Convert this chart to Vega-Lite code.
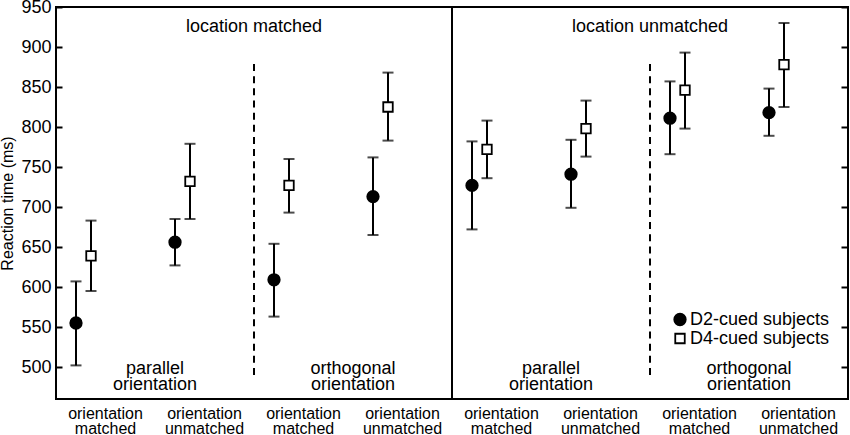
{
  "$schema": "https://vega.github.io/schema/vega-lite/v6.json",
  "description": "Reaction time by cue group, location and orientation condition",
  "width": 792,
  "height": 392,
  "autosize": "none",
  "padding": {"left": 56, "top": 7, "right": 2, "bottom": 36},
  "config": {
    "background": "white",
    "font": "Liberation Sans",
    "view": {"stroke": "black", "strokeWidth": 2}
  },
  "datasets": {
    "rt": [
      {"cond": "LM-PAR-OM", "group": "D2-cued subjects", "rt": 555, "lo": 502, "hi": 607},
      {"cond": "LM-PAR-OM", "group": "D4-cued subjects", "rt": 639, "lo": 595, "hi": 683},
      {"cond": "LM-PAR-OU", "group": "D2-cued subjects", "rt": 656, "lo": 627, "hi": 685},
      {"cond": "LM-PAR-OU", "group": "D4-cued subjects", "rt": 732, "lo": 685, "hi": 779},
      {"cond": "LM-ORT-OM", "group": "D2-cued subjects", "rt": 609, "lo": 563, "hi": 654},
      {"cond": "LM-ORT-OM", "group": "D4-cued subjects", "rt": 727, "lo": 693, "hi": 760},
      {"cond": "LM-ORT-OU", "group": "D2-cued subjects", "rt": 713, "lo": 665, "hi": 762},
      {"cond": "LM-ORT-OU", "group": "D4-cued subjects", "rt": 825, "lo": 783, "hi": 868},
      {"cond": "LU-PAR-OM", "group": "D2-cued subjects", "rt": 727, "lo": 672, "hi": 782},
      {"cond": "LU-PAR-OM", "group": "D4-cued subjects", "rt": 772, "lo": 736, "hi": 808},
      {"cond": "LU-PAR-OU", "group": "D2-cued subjects", "rt": 741, "lo": 699, "hi": 784},
      {"cond": "LU-PAR-OU", "group": "D4-cued subjects", "rt": 798, "lo": 763, "hi": 833},
      {"cond": "LU-ORT-OM", "group": "D2-cued subjects", "rt": 811, "lo": 766, "hi": 857},
      {"cond": "LU-ORT-OM", "group": "D4-cued subjects", "rt": 846, "lo": 798, "hi": 893},
      {"cond": "LU-ORT-OU", "group": "D2-cued subjects", "rt": 818, "lo": 789, "hi": 848},
      {"cond": "LU-ORT-OU", "group": "D4-cued subjects", "rt": 878, "lo": 825, "hi": 930}
    ],
    "locations": [
      {"cond": "LM-ORT-OM", "label": "location matched"},
      {"cond": "LU-ORT-OM", "label": "location unmatched"}
    ],
    "orientations": [
      {"cond": "LM-PAR-OU", "label": "parallel\norientation"},
      {"cond": "LM-ORT-OU", "label": "orthogonal\norientation"},
      {"cond": "LU-PAR-OU", "label": "parallel\norientation"},
      {"cond": "LU-ORT-OU", "label": "orthogonal\norientation"}
    ]
  },
  "layer": [
    {
      "data": {"name": "locations"},
      "mark": {"type": "rule", "stroke": "black", "strokeWidth": 2, "strokeDash": [7, 5.16]},
      "encoding": {
        "x": {"field": "cond", "type": "nominal", "bandPosition": 0},
        "y": {"datum": 490, "type": "quantitative", "axis": null, "scale": {"domain": [460, 950], "nice": false}},
        "y2": {"datum": 879}
      }
    },
    {
      "data": {"values": [{"cond": "LU-PAR-OM"}]},
      "mark": {"type": "rule", "stroke": "black", "strokeWidth": 2},
      "encoding": {
        "x": {"field": "cond", "type": "nominal", "bandPosition": 0}
      }
    },
    {
      "data": {"name": "locations"},
      "mark": {"type": "text", "fontSize": 18, "baseline": "middle", "align": "center", "color": "black"},
      "encoding": {
        "x": {"field": "cond", "type": "nominal", "bandPosition": 0},
        "y": {"datum": 925, "type": "quantitative", "axis": null},
        "text": {"field": "label"}
      }
    },
    {
      "data": {"name": "orientations"},
      "mark": {"type": "text", "fontSize": 18, "baseline": "middle", "align": "center", "lineBreak": "\n", "lineHeight": 16, "color": "black"},
      "encoding": {
        "x": {"field": "cond", "type": "nominal", "bandPosition": 0},
        "y": {"datum": 497, "type": "quantitative", "axis": null},
        "text": {"field": "label"}
      }
    },
    {
      "data": {"name": "rt"},
      "mark": {"type": "rule", "stroke": "black", "strokeWidth": 2},
      "encoding": {
        "x": {"field": "cond", "type": "nominal"},
        "xOffset": {"field": "group", "type": "nominal"},
        "y": {
          "field": "lo", "type": "quantitative",
          "axis": {"orient": "right", "labels": false, "title": null, "domain": false, "grid": false, "tickSize": -7, "tickWidth": 2, "tickColor": "black", "values": [500, 550, 600, 650, 700, 750, 800, 850, 900, 950]}
        },
        "y2": {"field": "hi"}
      }
    },
    {
      "data": {"name": "rt"},
      "mark": {"type": "tick", "orient": "horizontal", "size": 11, "thickness": 2, "color": "black"},
      "encoding": {
        "x": {"field": "cond", "type": "nominal"},
        "xOffset": {"field": "group", "type": "nominal"},
        "y": {"field": "lo", "type": "quantitative", "axis": null}
      }
    },
    {
      "data": {"name": "rt"},
      "mark": {"type": "tick", "orient": "horizontal", "size": 11, "thickness": 2, "color": "black"},
      "encoding": {
        "x": {"field": "cond", "type": "nominal"},
        "xOffset": {"field": "group", "type": "nominal"},
        "y": {"field": "hi", "type": "quantitative", "axis": null}
      }
    },
    {
      "data": {"name": "rt"},
      "mark": {"type": "point", "filled": true, "stroke": "black", "strokeWidth": 1.8, "opacity": 1},
      "encoding": {
        "x": {
          "field": "cond", "type": "nominal", "title": null,
          "scale": {"domain": ["LM-PAR-OM", "LM-PAR-OU", "LM-ORT-OM", "LM-ORT-OU", "LU-PAR-OM", "LU-PAR-OU", "LU-ORT-OM", "LU-ORT-OU"], "paddingInner": 0, "paddingOuter": 0},
          "axis": {
            "ticks": false, "domain": false, "labelAngle": 0, "labelAlign": "center", "labelBaseline": "top", "labelFontSize": 16, "labelColor": "black",
            "labelPadding": 6, "labelLineHeight": 15,
            "labelExpr": "slice(datum.value, -2) == 'OM' ? ['orientation', 'matched'] : ['orientation', 'unmatched']"
          }
        },
        "xOffset": {
          "field": "group", "type": "nominal",
          "scale": {"type": "point", "domain": ["D2-cued subjects", "D4-cued subjects"], "range": [20, 35], "padding": 0}
        },
        "y": {
          "field": "rt", "type": "quantitative",
          "scale": {"domain": [460, 950], "nice": false},
          "axis": {
            "title": "Reaction time (ms)", "titleFontSize": 16, "titleFontWeight": "normal", "titleColor": "black", "titlePadding": 5,
            "values": [500, 550, 600, 650, 700, 750, 800, 850, 900, 950],
            "labelFontSize": 18, "labelColor": "black", "labelPadding": 11,
            "tickSize": -6, "tickWidth": 2, "tickColor": "black", "domain": false, "grid": false
          }
        },
        "fill": {
          "field": "group", "type": "nominal",
          "scale": {"domain": ["D2-cued subjects", "D4-cued subjects"], "range": ["black", "white"]},
          "legend": {
            "orient": "none", "legendX": 615, "legendY": 305, "title": null, "padding": 0,
            "labelFontSize": 18, "labelColor": "black", "labelOffset": 1, "rowPadding": 0, "clipHeight": 15,
            "symbolStrokeColor": "black", "symbolStrokeWidth": 1.8
          }
        },
        "shape": {
          "field": "group", "type": "nominal",
          "scale": {"domain": ["D2-cued subjects", "D4-cued subjects"], "range": ["circle", "square"]}
        },
        "size": {
          "field": "group", "type": "nominal",
          "scale": {"domain": ["D2-cued subjects", "D4-cued subjects"], "range": [132, 90]}
        }
      }
    }
  ],
  "resolve": {"axis": {"y": "independent"}}
}
